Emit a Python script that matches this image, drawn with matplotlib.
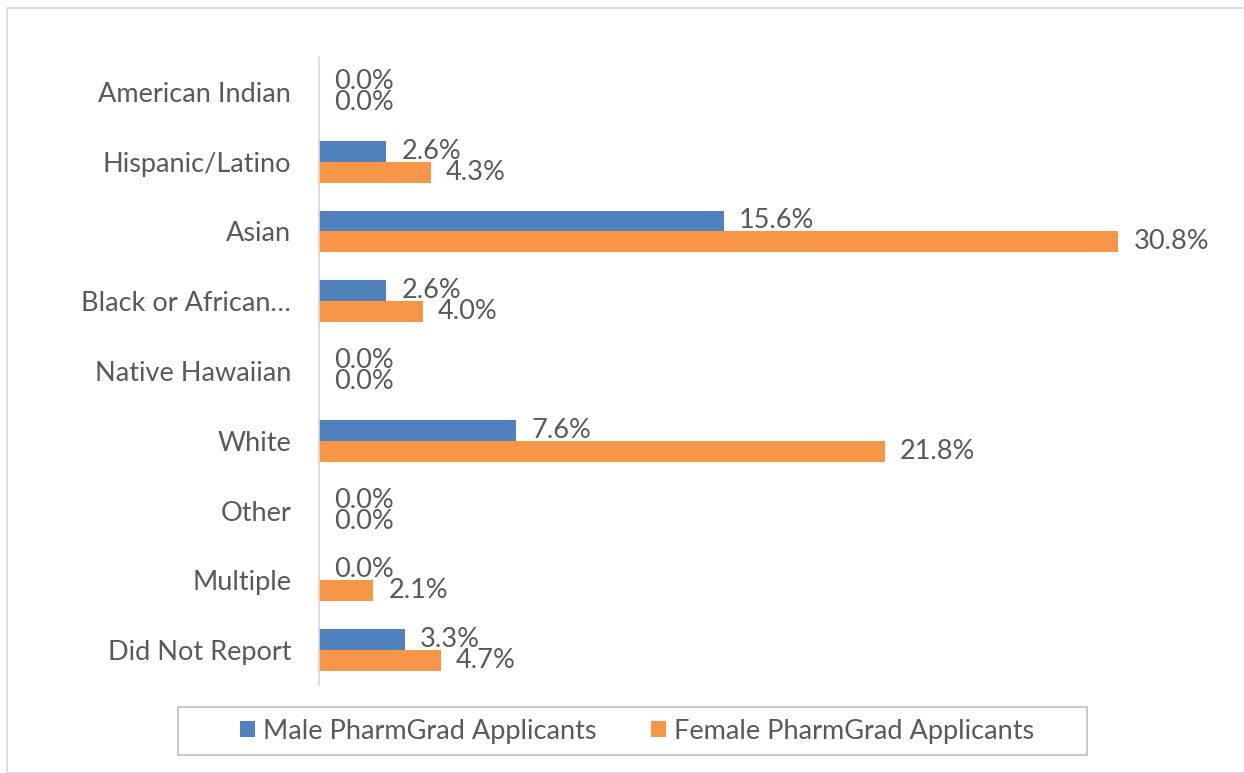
import numpy as np
import matplotlib.pyplot as plt
from matplotlib.patches import Rectangle

# Data
categories = ['American Indian', 'Hispanic/Latino', 'Asian', 'Black or African…',
              'Native Hawaiian', 'White', 'Other', 'Multiple', 'Did Not Report']
male = [0.0, 2.6, 15.6, 2.6, 0.0, 7.6, 0.0, 0.0, 3.3]
female = [0.0, 4.3, 30.8, 4.0, 0.0, 21.8, 0.0, 2.1, 4.7]
series_names = ['Male PharmGrad Applicants', 'Female PharmGrad Applicants']

blue = '#4F81BD'
orange = '#F79646'
txt = '#595959'
fs = 19.5

plt.rcParams['font.family'] = ['Lato', 'DejaVu Sans']

fig = plt.figure(figsize=(12.44, 7.73), dpi=100)
ax = fig.add_axes([319 / 1244, 1 - 685 / 773, 908 / 1244, 628 / 773])

y = np.arange(len(categories))
h = 0.3
bm = ax.barh(y - h / 2, male, height=h, color=blue, label=series_names[0])
bf = ax.barh(y + h / 2, female, height=h, color=orange, label=series_names[1])

for bars, vals in ((bm, male), (bf, female)):
    for b, v in zip(bars, vals):
        ax.annotate(f'{v:.1f}%', (v, b.get_y() + b.get_height() / 2),
                    xytext=(11, 0), textcoords='offset points',
                    va='center', ha='left', fontsize=fs, color=txt)

ax.set_xlim(0, 35)
ax.set_ylim(len(categories) - 0.5, -0.5)
ax.set_yticks(y)
ax.set_yticklabels(categories, fontsize=fs, color=txt)
ax.tick_params(axis='y', length=0, pad=20)
ax.set_xticks([])
for s in ['top', 'right', 'bottom']:
    ax.spines[s].set_visible(False)
ax.spines['left'].set_color('#d9d9d9')
ax.spines['left'].set_linewidth(1.2)

leg = fig.legend(loc='center', bbox_to_anchor=(637 / 1244, 1 - 731 / 773),
                 ncol=2, fontsize=fs, frameon=False,
                 handlelength=0.55, handleheight=0.55, columnspacing=2.0,
                 handletextpad=0.3, borderpad=0.0, borderaxespad=0)
for t in leg.get_texts():
    t.set_color(txt)

# legend box
fig.patches.append(Rectangle((178 / 1244, 1 - 755 / 773), 909 / 1244, 48 / 773,
                             transform=fig.transFigure, fill=False,
                             edgecolor='#bfbfbf', linewidth=1.2))
# outer chart border
fig.patches.append(Rectangle((7 / 1244, 0), 1, 1 - 8 / 773, transform=fig.transFigure,
                             fill=False, edgecolor='#d9d9d9', linewidth=1.2))

fig.savefig('out.png', dpi=100)
